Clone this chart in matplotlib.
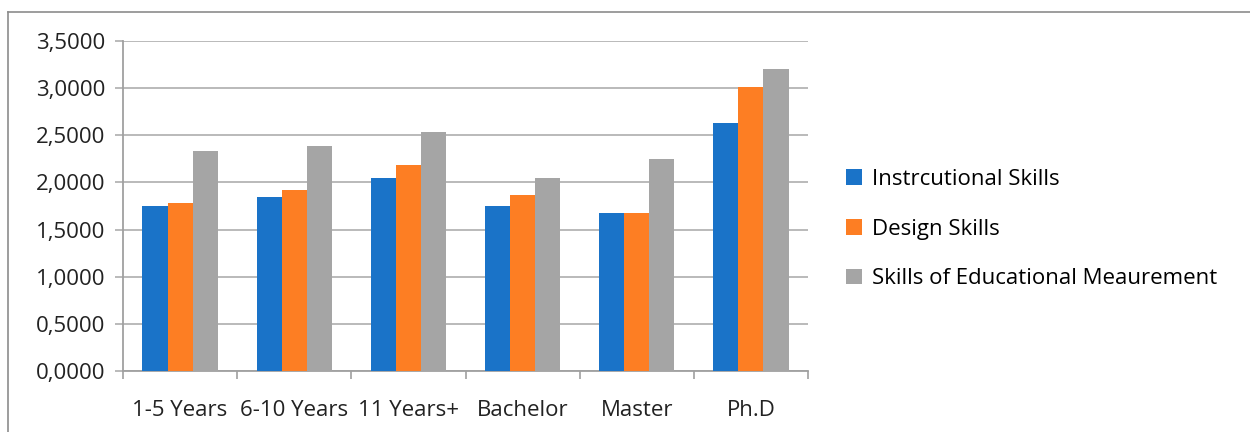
import numpy as np
import matplotlib
matplotlib.use("Agg")
import matplotlib.pyplot as plt
from matplotlib.lines import Line2D
from matplotlib.ticker import FuncFormatter, FixedLocator

plt.rcParams['font.family'] = ['Open Sans', 'DejaVu Sans']

categories = ['1-5 Years', '6-10 Years', '11 Years+', 'Bachelor', 'Master', 'Ph.D']
instructional = [1.746, 1.842, 2.043, 1.746, 1.679, 2.633]
design = [1.778, 1.923, 2.181, 1.870, 1.679, 3.012]
measurement = [2.333, 2.386, 2.534, 2.043, 2.248, 3.202]
series_names = ['Instrcutional Skills', 'Design Skills', 'Skills of Educational Meaurement']
colors = ['#1a73c8', '#fd7e23', '#a5a5a5']

fig = plt.figure(figsize=(12.5, 4.32), dpi=100)
# frame of the chart area: top and left edges only
fx, fy = 7.5 / 1250, 1 - 12 / 432
fig.lines.append(Line2D([fx, 1.0], [fy, fy], transform=fig.transFigure,
                        color='#8c8c8c', linewidth=1.2))
fig.lines.append(Line2D([fx, fx], [0.0, fy], transform=fig.transFigure,
                        color='#8c8c8c', linewidth=1.2))

ax = fig.add_axes([123 / 1250, 1 - 371 / 432, 685 / 1250, 330 / 432])

x = np.arange(len(categories))
w = 0.22
for i, (vals, name) in enumerate(zip([instructional, design, measurement], series_names)):
    ax.bar(x + (i - 1) * w, vals, width=w, color=colors[i], label=name, zorder=3)

ax.set_xlim(-0.5, len(categories) - 0.5)
ax.set_ylim(0, 3.5)
ax.set_yticks(np.arange(0, 3.51, 0.5))
ax.yaxis.set_major_formatter(FuncFormatter(lambda v, p: f"{v:.4f}".replace('.', ',')))
ax.yaxis.grid(True, color='#b4b4b4', linewidth=1.3, zorder=0)
ax.set_axisbelow(True)

ax.set_xticks(x)
ax.set_xticklabels(categories)
ax.xaxis.set_minor_locator(FixedLocator(np.arange(-0.5, len(categories), 1)))
ax.tick_params(axis='x', which='major', length=0, pad=21, labelsize=16, colors='#222222')
ax.tick_params(axis='x', which='minor', length=6, color='#a0a0a0', width=1.2)
ax.tick_params(axis='y', length=6, color='#b4b4b4', width=1.3, pad=7, labelsize=16, colors='#222222')

for s in ['top', 'right']:
    ax.spines[s].set_visible(False)
for s in ['left', 'bottom']:
    ax.spines[s].set_color('#a0a0a0')
    ax.spines[s].set_linewidth(1.3)

# legend to the right, centred on the middle entry
ax.legend(loc='center left', bbox_to_anchor=((846 - 123) / 685, (371 - 229) / 330),
          frameon=False, fontsize=16, handlelength=0.7, handleheight=0.7,
          handletextpad=0.45, labelspacing=1.3, borderaxespad=0, borderpad=0)

fig.savefig('out.png', dpi=100)
